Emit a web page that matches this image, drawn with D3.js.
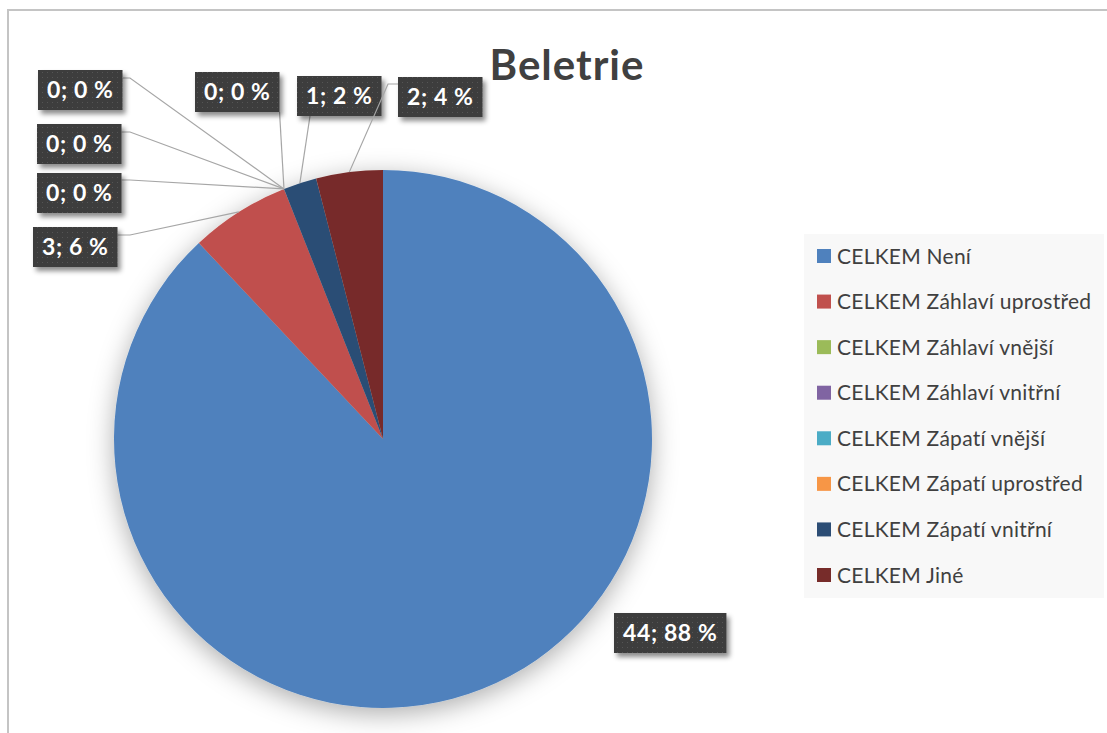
<!DOCTYPE html>
<html>
<head>
<meta charset="utf-8">
<script src="https://cdn.jsdelivr.net/npm/d3@7"></script>
<style>
  body { margin: 0; background: #fff; }
  svg { display: block; }
</style>
</head>
<body>
<svg id="chart" width="1107" height="733"></svg>
<script>
const title = "Beletrie";
const categories = [
  "CELKEM Není",
  "CELKEM Záhlaví uprostřed",
  "CELKEM Záhlaví vnější",
  "CELKEM Záhlaví vnitřní",
  "CELKEM Zápatí vnější",
  "CELKEM Zápatí uprostřed",
  "CELKEM Zápatí vnitřní",
  "CELKEM Jiné"
];
const values = [44, 3, 0, 0, 0, 0, 1, 2];
const colors = ["#4f81bd", "#c0504d", "#9bbb59", "#8064a2", "#4bacc6", "#f79646", "#2c4d75", "#772c2a"];

// label box layout (top-left of each box) and leader bend point, by slice index
const labelLayout = [
  { x: 614, y: 613, bend: null },
  { x: 33, y: 227, bend: [130, 235], side: "right" },
  { x: 37, y: 173, bend: [130, 180], side: "right" },
  { x: 37, y: 124, bend: [130, 132], side: "right" },
  { x: 38, y: 70, bend: [130, 78], side: "right" },
  { x: 195, y: 72, bend: null, side: "corner" },
  { x: 297, y: 76, bend: null, side: "bottom" },
  { x: 398, y: 77, bend: [388, 84], side: "left" }
];

const svg = d3.select("#chart");
const font = "Lato, 'Open Sans', sans-serif";
const defs = svg.append("defs");

const pieShadow = defs.append("filter").attr("id", "pieShadow")
  .attr("x", "-20%").attr("y", "-20%").attr("width", "140%").attr("height", "140%");
pieShadow.append("feDropShadow")
  .attr("dx", 0).attr("dy", 6).attr("stdDeviation", 13)
  .attr("flood-color", "#000").attr("flood-opacity", 0.32);

const boxShadow = defs.append("filter").attr("id", "boxShadow")
  .attr("x", "-20%").attr("y", "-30%").attr("width", "150%").attr("height", "170%");
boxShadow.append("feDropShadow")
  .attr("dx", 3).attr("dy", 4).attr("stdDeviation", 2.5)
  .attr("flood-color", "#000").attr("flood-opacity", 0.45);

const dots = defs.append("pattern").attr("id", "dots")
  .attr("width", 5).attr("height", 5).attr("patternUnits", "userSpaceOnUse");
dots.append("rect").attr("width", 5).attr("height", 5).attr("fill", "#3d3d3d");
dots.append("rect").attr("x", 2).attr("y", 2).attr("width", 1).attr("height", 1).attr("fill", "#555");

// chart area border
svg.append("rect")
  .attr("x", 8).attr("y", 10)
  .attr("width", 1130).attr("height", 760)
  .attr("fill", "#fff").attr("stroke", "#c4c4c4").attr("stroke-width", 2);

svg.append("text")
  .attr("x", 567).attr("y", 80)
  .attr("text-anchor", "middle")
  .style("font-family", font).style("font-weight", "bold").style("font-size", "42px")
  .style("letter-spacing", "1px")
  .attr("fill", "#404040")
  .text(title);

const cx = 383, cy = 439, r = 269;
const data = categories.map((c, i) => ({ name: c, value: values[i], color: colors[i], i }));
const total = d3.sum(values);

const pie = d3.pie().value(d => d.value).sort(null);
const arc = d3.arc().innerRadius(0).outerRadius(r);
const arcs = pie(data);

const g = svg.append("g").attr("transform", `translate(${cx},${cy})`);
g.append("g").attr("filter", "url(#pieShadow)")
  .selectAll("path")
  .data(arcs.filter(d => d.data.value > 0))
  .join("path")
  .attr("d", arc)
  .attr("fill", d => d.data.color);

// data labels
const labels = svg.append("g");
arcs.forEach(d => {
  const L = labelLayout[d.data.i];
  const txt = d.data.value + "; " + Math.round(d.data.value / total * 100) + " %";
  const mid = (d.startAngle + d.endAngle) / 2;
  const ax = cx + r * Math.sin(mid), ay = cy - r * Math.cos(mid);

  const t = labels.append("text")
    .style("font-family", font).style("font-weight", "bold").style("font-size", "23px")
    .style("letter-spacing", "0.6px")
    .attr("fill", "#fff").text(txt);
  const w = t.node().getComputedTextLength() + 18, h = 40;

  if (L.side) {
    let pts;
    if (L.side === "right") pts = [[ax, ay], L.bend, [L.x + w, L.bend[1]]];
    else if (L.side === "left") pts = [[ax, ay], L.bend, [L.x, L.bend[1]]];
    else if (L.side === "corner") pts = [[ax, ay], [L.x + w, L.y + h]];
    else pts = [[ax, ay], [L.x + 13, L.y + h]];
    labels.insert("path", "text")
      .attr("d", d3.line()(pts))
      .attr("fill", "none").attr("stroke", "#a6a6a6").attr("stroke-width", 1.2);
  }

  labels.insert("rect", "text")
    .attr("x", L.x).attr("y", L.y).attr("width", w).attr("height", h)
    .attr("fill", "url(#dots)").attr("filter", "url(#boxShadow)");
  t.attr("x", L.x + w / 2).attr("y", L.y + h / 2 + 8).attr("text-anchor", "middle");
});

// legend
const legend = svg.append("g");
legend.append("rect")
  .attr("x", 804).attr("y", 234).attr("width", 300).attr("height", 364)
  .attr("fill", "#f8f8f8");
const ly = d3.scalePoint().domain(categories).range([256, 575]);
const item = legend.selectAll("g.item").data(data).join("g").attr("class", "item")
  .attr("transform", d => `translate(817,${ly(d.name)})`);
item.append("rect").attr("x", 0).attr("y", -7).attr("width", 14).attr("height", 14)
  .attr("fill", d => d.color);
item.append("text").attr("x", 20).attr("y", 7.5)
  .style("font-family", font).style("font-size", "21px")
  .style("letter-spacing", "0.25px")
  .attr("fill", "#404040")
  .text(d => d.name);
</script>
</body>
</html>
